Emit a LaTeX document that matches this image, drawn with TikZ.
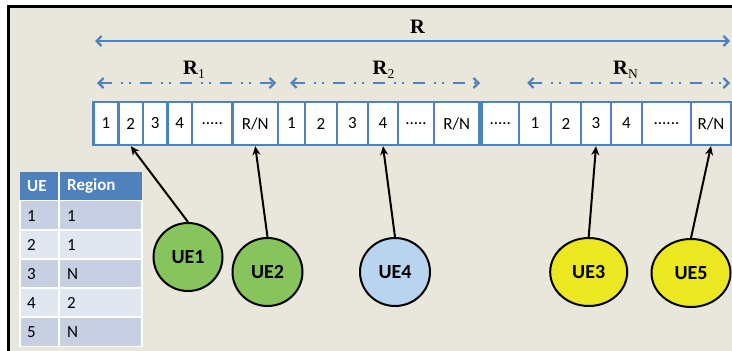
\documentclass[tikz,border=0pt]{standalone}
\usepackage{fontspec}
\setmainfont{Carlito}
\newfontfamily\tms{Liberation Serif}
\usetikzlibrary{arrows.meta,shapes.geometric}
\definecolor{bg}{HTML}{E9E7DB}
\definecolor{cellblue}{HTML}{4F81BD}
\definecolor{rowdark}{HTML}{C7D0E3}
\definecolor{rowlight}{HTML}{E1E7F0}
\definecolor{uegreen}{HTML}{88C45E}
\definecolor{uelblue}{HTML}{B8D4EE}
\definecolor{ueyellow}{HTML}{EBE822}
\tikzset{
  cell/.style={draw=cellblue, line width=2.3pt, fill=white, minimum height=43pt, inner sep=0pt, font=\fontsize{17}{18}\selectfont},
  ue/.style={ellipse, draw=black, line width=2pt, inner sep=0pt, font=\bfseries\fontsize{20}{20}\selectfont},
  ptr/.style={-{Stealth[length=9pt,width=8pt]}, line width=2pt, black},
  span/.style={{Straight Barb[length=5pt,width=10pt]}-{Straight Barb[length=5pt,width=10pt]}, line width=2.2pt, cellblue},
  subspan/.style={span, dash pattern=on 12pt off 9pt on 2pt off 6pt on 2pt off 9pt},
  rlab/.style={anchor=base west, inner sep=0pt, font=\tms\bfseries\fontsize{20.5}{22}\selectfont},
  tcell/.style={anchor=west, inner sep=0pt, font=\fontsize{17}{18}\selectfont},
  thead/.style={tcell, text=white, font=\bfseries\fontsize{17}{18}\selectfont},
  trow/.style={draw=white, line width=1.5pt}
}
\newcommand\mycell[4]{\node[cell, minimum width={#3-#2}] (#1) at ({(#2+#3)/2},123.5) {#4};}
\newcommand\subl[1]{{\mdseries\fontsize{13.5}{13}\selectfont\raisebox{-4pt}{#1}}}
\begin{document}
\begin{tikzpicture}[x=1pt,y=-1pt]
\useasboundingbox (0,0) rectangle (732,351);
\fill[white] (0,0) rectangle (732,351);
\fill[bg] (8,6) rectangle (732,351);
\draw[black,line width=2.5pt] (8.5,352) -- (8.5,6.5) -- (733,6.5);

% spans
\coordinate (rA) at (95,41); \coordinate (rB) at (730,41);
\draw[span] (rA) -- (rB);
\node[rlab] (lR) at (410,33.3) {R};
\coordinate (r1A) at (97,83); \coordinate (r1B) at (276,83);
\draw[subspan] (r1A) -- (r1B);
\node[rlab] (lR1) at (183,74) {R\subl{1}};
\coordinate (r2A) at (290,83); \coordinate (r2B) at (480,83);
\draw[subspan] (r2A) -- (r2B);
\node[rlab] (lR2) at (372.5,74) {R\subl{2}};
\coordinate (rNA) at (527,83); \coordinate (rNB) at (730,83);
\draw[subspan] (rNA) -- (rNB);
\node[rlab] (lRN) at (613,74) {R\subl{N}};

% cells
\mycell{a1}{93.5}{118.5}{1}
\mycell{a2}{118.5}{143}{2}
\mycell{a3}{143}{167.5}{3}
\mycell{a4}{167.5}{192}{4}
\mycell{a5}{192}{232.5}{.....}
\mycell{a6}{232.5}{278}{R/N}
\mycell{b1}{278}{305}{1}
\mycell{b2}{305}{337}{2}
\mycell{b3}{337}{368}{3}
\mycell{b4}{368}{398}{4}
\mycell{b5}{398}{434}{.....}
\mycell{b6}{434}{479.5}{R/N}
\mycell{d1}{481.5}{519}{.....}
\mycell{c1}{519}{551}{1}
\mycell{c2}{551}{581}{2}
\mycell{c3}{581}{611}{3}
\mycell{c4}{611}{642}{4}
\mycell{c5}{642}{691}{......}
\mycell{c6}{691}{731}{R/N}

% table
\fill[cellblue] (20,172) rectangle (142,199.5);
\draw[white,line width=1.5pt] (59,172) -- (59,199.5);
\draw[trow, fill=rowdark] (20,200.5) rectangle (59,230);
\draw[trow, fill=rowdark] (59,200.5) rectangle (142,230);
\draw[trow, fill=rowlight] (20,230) rectangle (59,259);
\draw[trow, fill=rowlight] (59,230) rectangle (142,259);
\draw[trow, fill=rowdark] (20,259) rectangle (59,288);
\draw[trow, fill=rowdark] (59,259) rectangle (142,288);
\draw[trow, fill=rowlight] (20,288) rectangle (59,317);
\draw[trow, fill=rowlight] (59,288) rectangle (142,317);
\draw[trow, fill=rowdark] (20,317) rectangle (59,346.5);
\draw[trow, fill=rowdark] (59,317) rectangle (142,346.5);
\node[thead] (h1) at (27,186) {UE};
\node[thead] (h2) at (67,186) {Region};
\node[tcell] (t11) at (27,216) {1};
\node[tcell] (t12) at (67,216) {1};
\node[tcell] (t21) at (27,245) {2};
\node[tcell] (t22) at (67,245) {1};
\node[tcell] (t31) at (27,274) {3};
\node[tcell] (t32) at (67,274) {N};
\node[tcell] (t41) at (27,303) {4};
\node[tcell] (t42) at (67,303) {2};
\node[tcell] (t51) at (27,332) {5};
\node[tcell] (t52) at (67,332) {N};

% UEs
\node[ue, fill=uegreen, minimum width=69pt, minimum height=68pt] (ue1) at (188,257) {UE1};
\node[ue, fill=uegreen, minimum width=70pt, minimum height=68pt] (ue2) at (267.5,272) {UE2};
\node[ue, fill=uelblue, minimum width=70pt, minimum height=68pt] (ue4) at (395,272) {UE4};
\node[ue, fill=ueyellow, minimum width=77pt, minimum height=68pt] (ue3) at (588.7,272) {UE3};
\node[ue, fill=ueyellow, minimum width=79pt, minimum height=68pt] (ue5) at (691,273) {UE5};

% pointers
\draw[ptr] (ue1.north) -- (a2.south);
\draw[ptr] (ue2.north) -- (a6.south);
\draw[ptr] (ue4.north) -- (b4.south);
\draw[ptr] (ue3.north) -- (c3.south);
\draw[ptr] (ue5.north) -- (c6.south);
\end{tikzpicture}
\end{document}
